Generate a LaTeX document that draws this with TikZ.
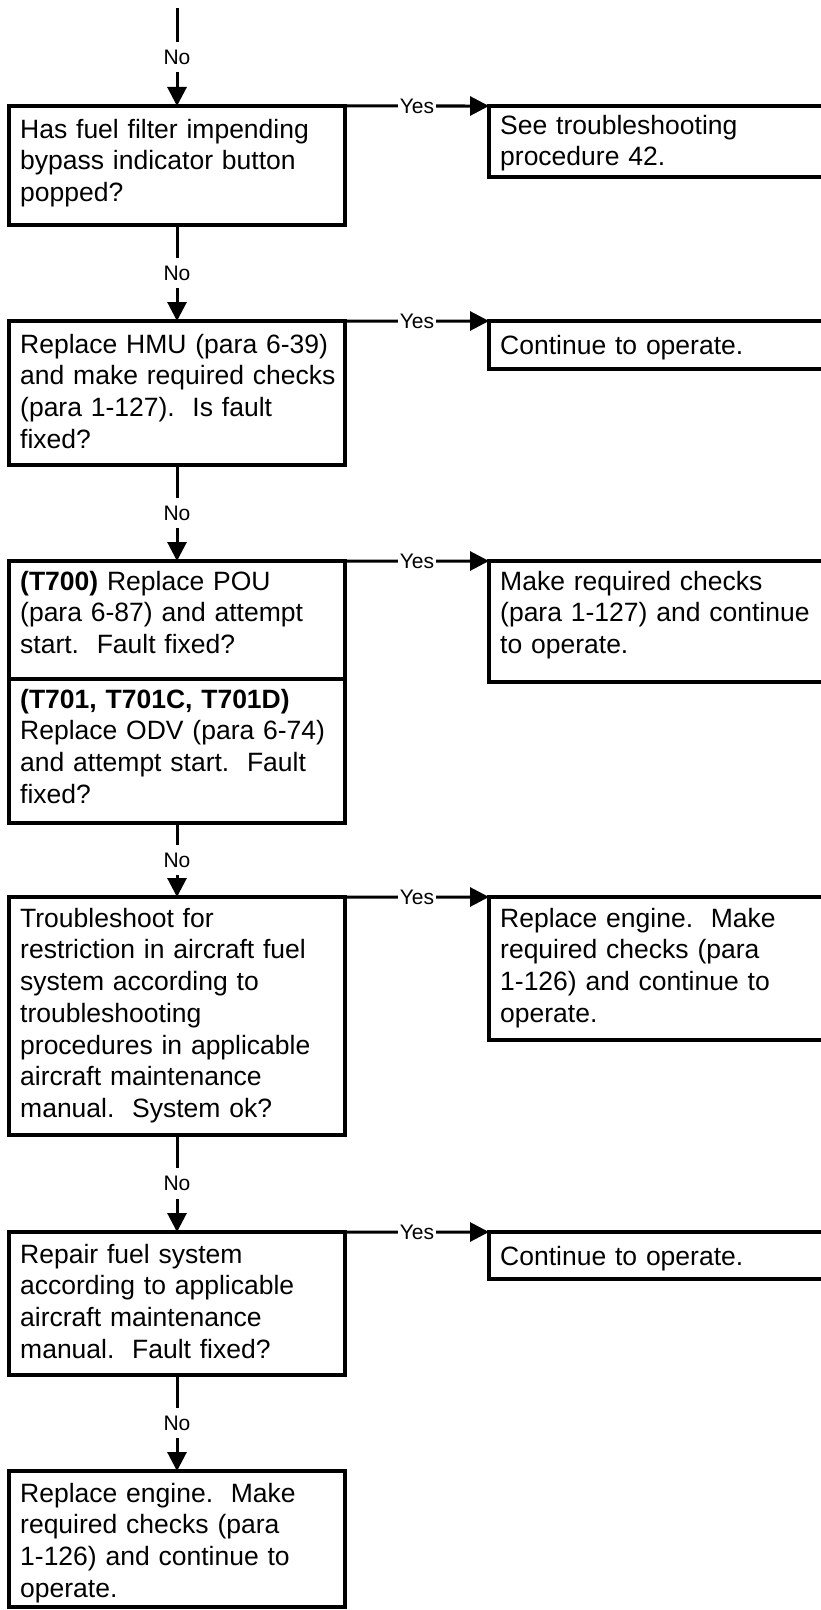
\documentclass[tikz,border=0pt]{standalone}
\usepackage{fontspec}
\setmainfont{Liberation Sans}
\usetikzlibrary{arrows.meta}
\newcommand\mystrut{\rule{0pt}{22bp}}
\begin{document}
\begin{tikzpicture}[x=1bp,y=-1bp,
  box/.style={draw, line width=3.1bp, rectangle, inner sep=0pt, outer sep=0pt},
  lbox/.style={box, minimum width=336bp},
  rbox/.style={box, minimum width=341bp},
  txt/.style={anchor=north west, inner sep=0pt, text width=340bp, align=left,
    font=\fontsize{26.5bp}{31.7bp}\selectfont},
  flow/.style={line width=3bp, -{Triangle[length=19bp,width=19bp]}},
  lbl/.style={fill=white, inner xsep=1.5bp, inner ysep=8bp,
    font=\fontsize{21bp}{24bp}\selectfont},
]
\useasboundingbox (0,0) rectangle (820,1610);
\frenchspacing

% left column: questions and actions
\node[lbox, minimum height=119bp] (b1) at (177,165.5) {};
\node[lbox, minimum height=144bp] (b2) at (177,393) {};
\node[lbox, minimum height=118bp] (b3a) at (177,620) {};
\node[lbox, minimum height=144bp] (b3b) at (177,751) {};
\node[lbox, minimum height=238bp] (b4) at (177,1016) {};
\node[lbox, minimum height=143bp] (b5) at (177,1303.5) {};
\node[lbox, minimum height=136bp] (b6) at (177,1539) {};

% right column: outcomes
\node[rbox, minimum height=71bp] (r1) at (659.5,141.5) {};
\node[rbox, minimum height=48bp] (r2) at (659.5,345) {};
\node[rbox, minimum height=121bp] (r3) at (659.5,621.5) {};
\node[rbox, minimum height=143bp] (r4) at (659.5,968.5) {};
\node[rbox, minimum height=47bp] (r5) at (659.5,1255.5) {};

% box texts (placed by first baseline)
\node[txt] (t1) at (20,116) {\mystrut Has fuel filter impending\\bypass indicator button\\popped?};
\node[txt] (t2) at (20,331) {\mystrut Replace HMU (para 6-39)\\and make required checks\\(para 1-127).\ \ Is fault\\fixed?};
\node[txt] (t3a) at (20,568) {\mystrut\textbf{(T700)} Replace POU\\(para 6-87) and attempt\\start.\ \ Fault fixed?};
\node[txt] (t3b) at (20,686) {\mystrut\textbf{(T701, T701C, T701D)}\\Replace ODV (para 6-74)\\and attempt start.\ \ Fault\\fixed?};
\node[txt] (t4) at (20,905) {\mystrut Troubleshoot for\\restriction in aircraft fuel\\system according to\\troubleshooting\\procedures in applicable\\aircraft maintenance\\manual.\ \ System ok?};
\node[txt] (t5) at (20,1241) {\mystrut Repair fuel system\\according to applicable\\aircraft maintenance\\manual.\ \ Fault fixed?};
\node[txt] (t6) at (20,1480) {\mystrut Replace engine.\ \ Make\\required checks (para\\1-126) and continue to\\operate.};

\node[txt] (s1) at (500,112) {\mystrut See troubleshooting\\procedure 42.};
\node[txt] (s2) at (500,332) {\mystrut Continue to operate.};
\node[txt] (s3) at (500,568) {\mystrut Make required checks\\(para 1-127) and continue\\to operate.};
\node[txt] (s4) at (500,905) {\mystrut Replace engine.\ \ Make\\required checks (para\\1-126) and continue to\\operate.};
\node[txt] (s5) at (500,1243) {\mystrut Continue to operate.};

% "No" connectors
\coordinate (start) at (177,8);
\draw[flow] (start) -- node[lbl] {No} (b1.north);
\draw[flow] (b1.south) -- node[lbl] {No} (b2.north);
\draw[flow] (b2.south) -- node[lbl] {No} (b3a.north);
\draw[flow] (b3b.south) -- node[lbl] {No} (b4.north);
\draw[flow] (b4.south) -- node[lbl] {No} (b5.north);
\draw[flow] (b5.south) -- node[lbl] {No} (b6.north);

% "Yes" connectors
\draw[flow] (b1.north east) -- node[lbl] {Yes} (r1.north west);
\draw[flow] (b2.north east) -- node[lbl] {Yes} (r2.north west);
\draw[flow] (b3a.north east) -- node[lbl] {Yes} (r3.north west);
\draw[flow] (b4.north east) -- node[lbl] {Yes} (r4.north west);
\draw[flow] (b5.north east) -- node[lbl] {Yes} (r5.north west);
\end{tikzpicture}
\end{document}
